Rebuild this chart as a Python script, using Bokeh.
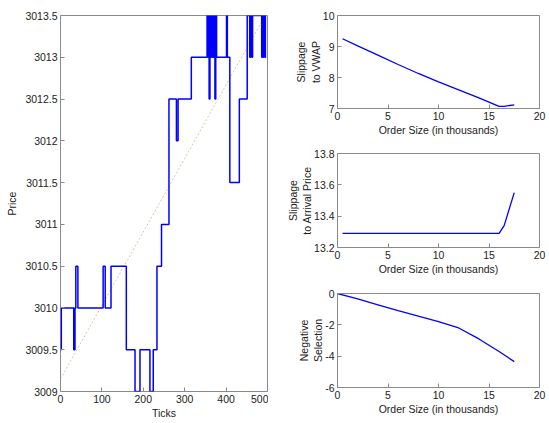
from bokeh.plotting import figure
from bokeh.layouts import row, column
from bokeh.models import FixedTicker, Range1d
from bokeh.embed import file_html
from bokeh.resources import INLINE

# ---------------- data ----------------
tick_idx = [0, 2, 32, 35, 37, 42, 103, 108, 122, 159, 180, 192, 216, 224, 233, 244, 262,
            280, 284, 316, 354, 356, 357, 359, 361, 363, 365, 367, 370, 373, 375, 377,
            401, 403, 409, 432, 451, 457, 459, 462, 464, 486, 488, 490, 492, 495, 497]
price = [3009.5, 3010, 3009.5, 3010, 3010.5, 3010, 3010.5, 3010, 3010.5, 3009.5, 3009,
         3009.5, 3009, 3009.5, 3010.5, 3011, 3012.5, 3012, 3012.5, 3013, 3013.5, 3013,
         3013.5, 3012.5, 3013.5, 3013, 3013.5, 3013, 3013.5, 3012.5, 3013.5, 3013,
         3013.5, 3013, 3011.5, 3012.5, 3013.5, 3013, 3013.5, 3013, 3013.5, 3013, 3013.5,
         3013, 3013.5, 3013, 3013]
trend_x = [0, 500]
trend_y = [3009.15, 3013.55]

price_ticks = [3009, 3009.5, 3010, 3010.5, 3011, 3011.5, 3012, 3012.5, 3013, 3013.5]
price_tick_labels = ["3009", "3009.5", "3010", "3010.5", "3011", "3011.5", "3012",
                     "3012.5", "3013", "3013.5"]
tick_ticks = [0, 100, 200, 300, 400, 500]

size_ticks = [0, 5, 10, 15, 20]

vwap_x = [0.5, 2, 4, 6, 8, 10, 12, 14, 16, 16.5, 17.5]
vwap_y = [9.25, 9.02, 8.72, 8.42, 8.13, 7.86, 7.6, 7.34, 7.07, 7.07, 7.12]
vwap_ticks = [7, 8, 9, 10]

arr_x = [0.5, 16, 16.5, 17.5]
arr_y = [13.29, 13.29, 13.34, 13.55]
arr_ticks = [13.2, 13.4, 13.6, 13.8]
arr_tick_labels = ["13.2", "13.4", "13.6", "13.8"]

neg_x = [0, 2, 4, 6, 8, 10, 12, 14, 16, 17.5]
neg_y = [0, -0.35, -0.72, -1.1, -1.45, -1.8, -2.2, -2.9, -3.7, -4.35]
neg_ticks = [-6, -4, -2, 0]

FONT = "Liberation Sans"
FS = "10.5px"
BOX = "#8a8a8a"
BLUE = "#0000ff"


def style_axis(ax, ticks, overrides=None, label_standoff=1):
    ax.ticker = FixedTicker(ticks=ticks)
    if overrides:
        ax.major_label_overrides = overrides
    ax.axis_line_color = None
    ax.major_tick_in = 4
    ax.major_tick_out = 0
    ax.major_tick_line_color = BOX
    ax.minor_tick_line_color = None
    ax.major_label_text_font = FONT
    ax.major_label_text_font_size = FS
    ax.major_label_text_color = "#222222"
    ax.major_label_standoff = 3
    ax.axis_label_text_font = FONT
    ax.axis_label_text_font_size = FS
    ax.axis_label_text_font_style = "normal"
    ax.axis_label_text_color = "#222222"
    ax.axis_label_standoff = label_standoff


def make_fig(w, h, xr, yr, left, right, top, bottom):
    f = figure(width=w, height=h, x_range=Range1d(*xr), y_range=Range1d(*yr),
               output_backend="svg", toolbar_location=None,
               min_border_left=left, min_border_right=right,
               min_border_top=top, min_border_bottom=bottom)
    f.grid.visible = False
    f.outline_line_color = BOX
    f.outline_line_width = 1
    f.background_fill_color = "white"
    f.border_fill_color = "white"
    return f


# ---------------- main price chart ----------------
p = make_fig(268, 421, (0, 500), (3009, 3013.5), 60, 1, 15, 29)
p.line(trend_x, trend_y, line_color="#dcc3a8", line_width=1, line_dash="2 2")
p.step(tick_idx, price, mode="after", line_color=BLUE, line_width=1.5)
style_axis(p.xaxis[0], tick_ticks)
style_axis(p.yaxis[0], price_ticks,
           {t: s for t, s in zip(price_ticks, price_tick_labels)}, label_standoff=4)
p.xaxis[0].axis_label = "Ticks"
p.yaxis[0].axis_label = "Price"

# ---------------- right panels ----------------
p1 = make_fig(279, 140, (0, 20), (7, 10), 69, 8, 15, 32)
p1.line(vwap_x, vwap_y, line_color=BLUE, line_width=1.3)
style_axis(p1.xaxis[0], size_ticks)
style_axis(p1.yaxis[0], vwap_ticks, label_standoff=-2)
p1.xaxis[0].axis_label = "Order Size (in thousands)"
p1.yaxis[0].axis_label = "Slippage\nto VWAP"

p2 = make_fig(279, 142, (0, 20), (13.2, 13.8), 69, 8, 13, 35)
p2.line(arr_x, arr_y, line_color=BLUE, line_width=1.3)
style_axis(p2.xaxis[0], size_ticks)
style_axis(p2.yaxis[0], arr_ticks, {t: s for t, s in zip(arr_ticks, arr_tick_labels)},
           label_standoff=-2)
p2.xaxis[0].axis_label = "Order Size (in thousands)"
p2.yaxis[0].axis_label = "Slippage\nto Arrival Price"

p3 = make_fig(279, 139, (0, 20), (-6, 0), 69, 8, 11, 34)
p3.line(neg_x, neg_y, line_color=BLUE, line_width=1.3)
style_axis(p3.xaxis[0], size_ticks)
style_axis(p3.yaxis[0], neg_ticks, {t: str(t) for t in neg_ticks}, label_standoff=-2)
p3.xaxis[0].axis_label = "Order Size (in thousands)"
p3.yaxis[0].axis_label = "Negative\nSelection"

layout = row(p, column(p1, p2, p3))

open("out.html", "w").write(file_html(layout, INLINE))
